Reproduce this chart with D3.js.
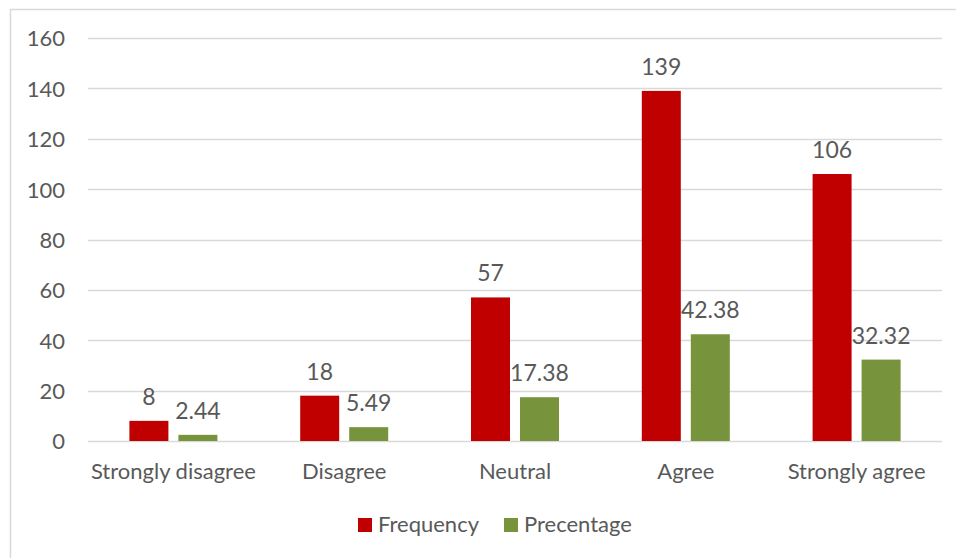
<!DOCTYPE html>
<html>
<head>
<meta charset="utf-8">
<script src="https://cdn.jsdelivr.net/npm/d3@7"></script>
<style>
  html, body { margin: 0; padding: 0; background: #fff; }
  svg { display: block; }
  text { font-family: "Lato", "Open Sans", sans-serif; fill: #595959; }
</style>
</head>
<body>
<svg id="chart" width="956" height="558"></svg>
<script>
// Survey responses: counts and their share of all respondents
const categories = ["Strongly disagree", "Disagree", "Neutral", "Agree", "Strongly agree"];
const frequency = [8, 18, 57, 139, 106];
const percentage = [2.44, 5.49, 17.38, 42.38, 32.32];
const seriesNames = ["Frequency", "Precentage"];
const seriesColors = ["#C00000", "#77933C"];
const yTicks = [0, 20, 40, 60, 80, 100, 120, 140, 160];

const svg = d3.select("#chart");
const W = 956, H = 558;
const axisFont = 22, labelFont = 23;

// outer chart frame (left and top edges visible)
svg.append("rect")
  .attr("x", 10.5).attr("y", 9.5)
  .attr("width", W + 20).attr("height", H + 20)
  .attr("fill", "none").attr("stroke", "#d9d9d9").attr("stroke-width", 1.5);

const plot = { left: 88, right: 942, top: 38, bottom: 441 };

const x = d3.scaleBand().domain(categories).range([plot.left, plot.right]).paddingInner(0).paddingOuter(0);
const y = d3.scaleLinear().domain([0, 160]).range([plot.bottom, plot.top]);

const barW = 39, gap = 10;
const offsets = [-(gap / 2) - barW, gap / 2];

// gridlines
svg.append("g").selectAll("line").data(yTicks).join("line")
  .attr("x1", plot.left).attr("x2", plot.right)
  .attr("y1", d => Math.round(y(d)) + 0.5).attr("y2", d => Math.round(y(d)) + 0.5)
  .attr("stroke", "#d9d9d9").attr("stroke-width", 1.5);

// y axis labels
const yAxis = d3.axisLeft(y).tickValues(yTicks).tickSize(0).tickPadding(0);
const gy = svg.append("g").attr("transform", `translate(${plot.left - 23},0)`).call(yAxis);
gy.select(".domain").remove();
gy.selectAll("text").attr("font-size", axisFont).attr("dy", "0.36em")
  .style("font-family", "Lato, 'Open Sans', sans-serif").attr("fill", "#595959");

// x axis labels
const xAxis = d3.axisBottom(x).tickSize(0).tickPadding(0);
const gx = svg.append("g").attr("transform", `translate(0,${plot.bottom + 38})`).call(xAxis);
gx.select(".domain").remove();
gx.selectAll("text").attr("font-size", axisFont).attr("dy", 0)
  .style("font-family", "Lato, 'Open Sans', sans-serif").attr("fill", "#595959");

// bars and value labels
const series = [frequency, percentage];
series.forEach((vals, si) => {
  const g = svg.append("g");
  g.selectAll("rect").data(vals).join("rect")
    .attr("x", (d, i) => x(categories[i]) + x.bandwidth() / 2 + offsets[si])
    .attr("y", d => y(d))
    .attr("width", barW)
    .attr("height", d => y(0) - y(d))
    .attr("fill", seriesColors[si]);
  g.selectAll("text").data(vals).join("text")
    .attr("x", (d, i) => x(categories[i]) + x.bandwidth() / 2 + offsets[si] + barW / 2)
    .attr("y", d => y(d) - 16)
    .attr("text-anchor", "middle")
    .attr("font-size", labelFont)
    .attr("fill", "#404040")
    .text(d => d);
});

// legend
const legendItems = [{ name: seriesNames[0], color: seriesColors[0], x: 358 }, { name: seriesNames[1], color: seriesColors[1], x: 504 }];
const lg = svg.append("g");
legendItems.forEach(it => {
  lg.append("rect").attr("x", it.x).attr("y", 518).attr("width", 14).attr("height", 14).attr("fill", it.color);
  lg.append("text").attr("x", it.x + 20).attr("y", 532).attr("font-size", axisFont).attr("fill", "#595959").text(it.name);
});
</script>
</body>
</html>
